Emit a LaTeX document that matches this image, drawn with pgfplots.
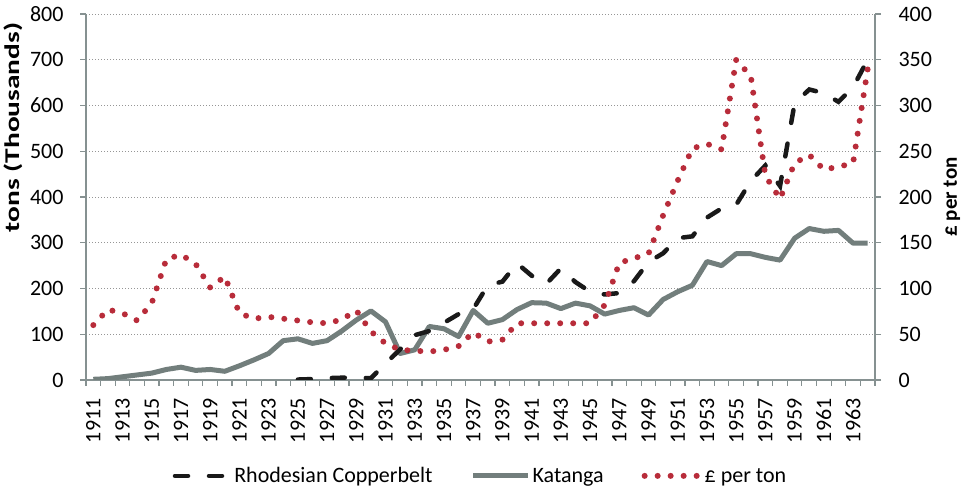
\documentclass[border=0pt]{standalone}
\usepackage{fontspec}
\setmainfont{Carlito}
\usepackage{graphicx}
\usepackage{pgfplots}
\usepackage{pgfplotstable}
\pgfplotsset{compat=1.18}

\definecolor{katgray}{RGB}{114,126,124}
\definecolor{rhodblack}{RGB}{25,25,25}
\definecolor{pricered}{RGB}{184,44,58}
\definecolor{axisgray}{RGB}{134,145,145}
\definecolor{gridgray}{RGB}{150,150,150}

% thousand tons
\pgfplotstableread{
year kat
1911 1.5
1912 3
1913 7
1914 11
1915 15
1916 23
1917 28
1918 21
1919 23
1920 19
1921 31
1922 44
1923 58
1924 86
1925 90
1926 80
1927 86
1928 107
1929 131
1930 151
1931 127
1932 58
1933 66
1934 117
1935 112
1936 95
1937 152
1938 124
1939 132
1940 154
1941 169
1942 168
1943 156
1944 168
1945 162
1946 144
1947 152
1948 158
1949 142
1950 176
1951 193
1952 207
1953 259
1954 250
1955 276
1956 276
1957 268
1958 262
1959 310
1960 331
1961 325
1962 327
1963 299
1964 299
}\katanga

\pgfplotstableread{
year rhod
1925 1
1926 2
1927 4
1928 5
1929 5
1930 4
1931 36
1932 67
1933 98
1934 107
1935 125
1936 144
1937 155
1938 207
1939 215
1940 255
1941 228
1942 210
1943 244
1944 214
1945 193
1946 187
1947 190
1948 216
1949 258
1950 277
1951 310
1952 314
1953 355
1954 375
1955 383
1956 435
1957 469
1958 424
1959 605
1960 635
1961 627
1962 608
1963 640
1964 700
}\rhodesia

% pounds per ton
\pgfplotstableread{
year price
1911 60
1912 77
1913 73
1914 65
1915 84
1916 132
1917 137
1918 127
1919 101
1920 113
1921 73
1922 67
1923 69
1924 67
1925 65
1926 63
1927 62
1928 66
1929 76
1930 53
1931 40
1932 33
1933 32
1934 31
1935 33
1936 37
1937 52
1938 42
1939 44
1940 62
1941 62
1942 62
1943 62
1944 62
1945 62
1946 82
1947 128
1948 133
1949 138
1950 180
1951 218
1952 253
1953 258
1954 252
1955 350
1956 332
1957 223
1958 198
1959 237
1960 246
1961 230
1962 233
1963 237
1964 340
}\price

\tikzset{
  katstyle/.style={color=katgray, line width=5pt, line join=round},
  rhodstyle/.style={color=rhodblack, line width=4.5pt, line cap=round, dash pattern=on 13pt off 21pt},
  pricestyle/.style={color=pricered, line width=6pt, line cap=round, dash pattern=on 0pt off 13pt},
}

\pgfplotsset{
  common/.style={
    scale only axis, width=789pt, height=366pt,
    xmin=1910.5, xmax=1964.5,
    axis line style={axisgray, line width=1.2pt},
    tick style={axisgray, line width=1.2pt},
    tick align=outside, major tick length=6pt,
    /pgf/number format/1000 sep={},
    /pgf/number format/assume math mode=true,
    tick label style={font=\fontsize{22}{26}\selectfont},
    label style={font=\fontsize{21}{25}\selectfont\bfseries},
    legend image code/.code={\draw[##1] (0pt,0pt) -- (55pt,0pt);},
  },
}

\begin{document}
\begin{tikzpicture}
\begin{axis}[
  common,
  ymin=0, ymax=800,
  axis y line*=left, axis x line*=bottom,
  ytick={0,100,...,800},
  yticklabel style={xshift=-13pt},
  ymajorgrids,
  grid style={gridgray, line width=0.9pt, dash pattern=on 1pt off 2pt},
  xtick={1910.5,1911.5,...,1964.5},
  xticklabels={},
  extra x ticks={1911,1913,...,1963},
  extra x tick style={grid=none, major tick length=0pt,
    tick label style={yshift=-15pt, rotate=90, anchor=east}},
  ylabel={\scalebox{1.4}[1]{tons (Thousands)}},
  ylabel style={at={(rel axis cs:-0.0925,0.69)}, anchor=center},
]
\addplot[katstyle] table[x=year, y=kat] {\katanga};
\addplot[rhodstyle] table[x=year, y=rhod] {\rhodesia};
\coordinate (sw) at (rel axis cs:0,0);
\coordinate (ne) at (rel axis cs:1,1);
\end{axis}
\begin{axis}[
  common,
  ymin=0, ymax=400,
  axis y line*=right, axis x line=none,
  ytick={0,50,...,400},
  yticklabel style={xshift=14pt},
  ylabel={£ per ton},
  ylabel style={at={(rel axis cs:1.0976,0.5)}, anchor=center},
  legend style={at={(0.5,-0.262)}, anchor=center, draw=none,
    font=\fontsize{22}{26}\selectfont,
    /tikz/every even column/.append style={column sep=36pt}},
  legend columns=3,
  legend cell align=left,
]
\addlegendimage{rhodstyle}
\addlegendentry{Rhodesian Copperbelt}
\addlegendimage{katstyle}
\addlegendentry{Katanga}
\addplot[pricestyle] table[x=year, y=price] {\price};
\addlegendentry{£ per ton}
\end{axis}
\pgfresetboundingbox
\path[use as bounding box] ([xshift=-86pt,yshift=-109pt]sw) rectangle ([xshift=91pt,yshift=14pt]ne);
\end{tikzpicture}
\end{document}
